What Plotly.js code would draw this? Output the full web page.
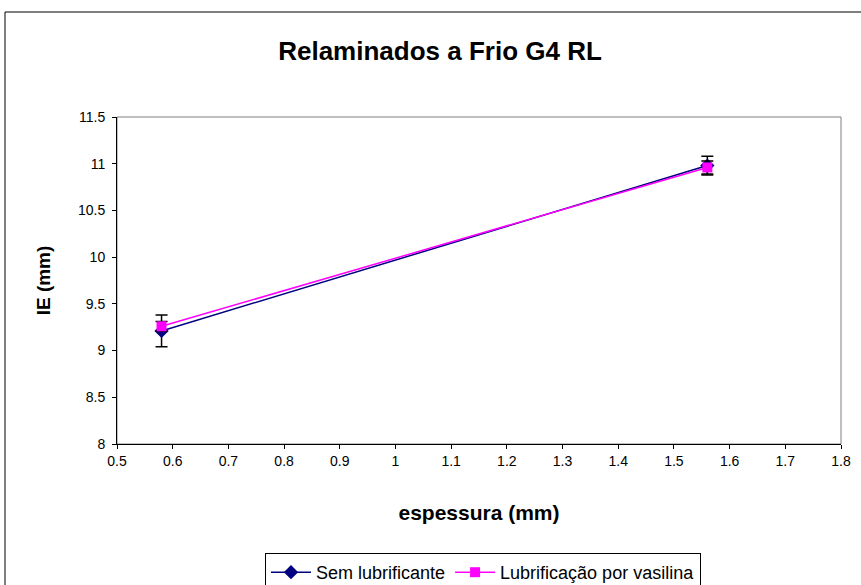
<!DOCTYPE html>
<html>
<head>
<meta charset="utf-8">
<script src="https://cdn.plot.ly/plotly-3.0.1.min.js"></script>
<style>
html,body{margin:0;padding:0;background:#fff;}
#chart{width:861px;height:585px;}
</style>
</head>
<body>
<div id="chart"></div>
<script>
// Data
const thickness = [0.58, 1.56];
const semLubrificante = [9.21, 10.98];
const semLubrificanteErr = [0.17, 0.10];
const vasilina = [9.26, 10.96];
const vasilinaErr = [0.05, 0.07];
const seriesNames = ["Sem lubrificante", "Lubrificação por vasilina"];
const xTicks = [0.5,0.6,0.7,0.8,0.9,1,1.1,1.2,1.3,1.4,1.5,1.6,1.7,1.8];
const yTicks = [8,8.5,9,9.5,10,10.5,11,11.5];

const font = "Arial, 'Liberation Sans', sans-serif";

const traces = [
  {
    x: thickness, y: semLubrificante, name: seriesNames[0],
    type: "scatter", mode: "lines+markers",
    line: {color: "#000080", width: 1.5},
    marker: {symbol: "diamond", size: 11, color: "#000080"},
    error_y: {type: "data", array: semLubrificanteErr, visible: true, color: "#000000", thickness: 1.5, width: 6}
  },
  {
    x: thickness, y: vasilina, name: seriesNames[1],
    type: "scatter", mode: "lines+markers",
    line: {color: "#FF00FF", width: 1.5},
    marker: {symbol: "square", size: 10, color: "#FF00FF"},
    error_y: {type: "data", array: vasilinaErr, visible: true, color: "#000000", thickness: 1.5, width: 6}
  }
];

const layout = {
  width: 861, height: 585,
  paper_bgcolor: "#ffffff", plot_bgcolor: "#ffffff",
  margin: {l: 117, r: 20, t: 117, b: 141},
  font: {family: font, color: "#000", size: 14},
  title: {
    text: "<b>Relaminados a Frio G4 RL</b>",
    font: {family: font, size: 26, color: "#000"},
    x: 440/861, xanchor: "center", xref: "container",
    y: 1 - 51/585, yanchor: "middle", yref: "container"
  },
  xaxis: {
    range: [0.5, 1.8], tickvals: xTicks, ticktext: xTicks.map(String),
    showgrid: false, zeroline: false,
    showline: true, linecolor: "#000", linewidth: 1,
    ticks: "outside", ticklen: 4, tickcolor: "#000",
    tickfont: {family: font, size: 14},
    title: {text: "<b>espessura (mm)</b>", font: {family: font, size: 21}, standoff: 37},
    automargin: false
  },
  yaxis: {
    range: [8, 11.5], tickvals: yTicks, ticktext: yTicks.map(String),
    showgrid: false, zeroline: false,
    showline: true, linecolor: "#000", linewidth: 1,
    ticks: "outside", ticklen: 4, tickcolor: "#000",
    ticklabelstandoff: 4,
    tickfont: {family: font, size: 14},
    title: {text: "<b>IE (mm)</b>", font: {family: font, size: 19}, standoff: 22},
    automargin: false
  },
  showlegend: true,
  legend: {
    orientation: "h",
    xref: "container", yref: "container",
    x: 483/861, xanchor: "center",
    y: 1 - 553/585, yanchor: "top",
    bordercolor: "#000", borderwidth: 1,
    itemwidth: 40,
    font: {family: font, size: 18, color: "#000"},
    bgcolor: "#fff"
  },
  shapes: [
    {type: "rect", xref: "paper", yref: "paper", x0: 0, x1: 1, y0: 0, y1: 1,
     line: {color: "#808080", width: 1}, layer: "below"},
    {type: "rect", xref: "paper", yref: "paper",
     x0: (5-117)/724, x1: (900-117)/724, y0: (444-620)/327, y1: (444-12)/327,
     line: {color: "#000", width: 1}, layer: "below"}
  ]
};

Plotly.newPlot("chart", traces, layout, {displayModeBar: false, staticPlot: true});
</script>
</body>
</html>
